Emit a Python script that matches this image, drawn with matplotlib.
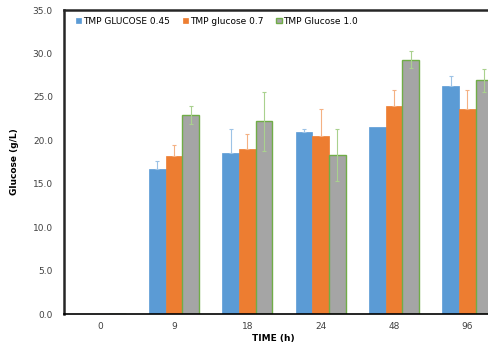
import matplotlib.pyplot as plt
import numpy as np

# Glucose by time for the three TMP conditions
times = ["0", "9", "18", "24", "48", "96"]
series_names = ["TMP GLUCOSE 0.45", "TMP glucose 0.7", "TMP Glucose 1.0"]
glucose_045 = [0, 16.7, 18.5, 20.9, 21.5, 26.3]
glucose_07 = [0, 18.2, 19.0, 20.5, 23.9, 23.6]
glucose_10 = [0, 22.9, 22.2, 18.3, 29.3, 26.9]
err_045 = [0, 0.9, 2.8, 0.35, 0.0, 1.1]
err_07 = [0, 1.3, 1.7, 3.1, 1.9, 2.2]
err_10 = [0, 1.0, 3.4, 3.0, 1.0, 1.3]

colors = ["#5B9BD5", "#ED7D31", "#A5A5A5"]
err_colors = ["#9DC3E6", "#F4B183", "#A9D18E"]

fig = plt.figure(figsize=(4.89, 3.46), dpi=100)
# axes runs past the right edge of the picture, as in the reference
ax = fig.add_axes([64 / 489, 32 / 346, 440 / 489, 304 / 346])

x = np.arange(len(times))
w = 0.227
values = [glucose_045, glucose_07, glucose_10]
errors = [err_045, err_07, err_10]
for i in range(3):
    pos = x + (i - 1) * w
    vals = np.array(values[i], dtype=float)
    errs = np.array(errors[i], dtype=float)
    if i == 2:
        ax.bar(pos, vals, w, color=colors[i], edgecolor="#70AD47",
               linewidth=1.0, label=series_names[i], zorder=2)
    else:
        ax.bar(pos, vals, w, color=colors[i], edgecolor=colors[i],
               linewidth=0.5, label=series_names[i], zorder=2)
    # skip empty points (no bar or no spread)
    keep = (vals > 0) & (errs > 0)
    if i == 2:
        yerr = errs[keep]
    else:
        yerr = [np.zeros(keep.sum()), errs[keep]]
    ax.errorbar(pos[keep], vals[keep], yerr=yerr, fmt="none", ecolor=err_colors[i],
                elinewidth=0.8, capsize=1.5, capthick=0.8, zorder=3)

ax.set_xlim(-0.5, len(times) - 0.5)
ax.set_ylim(0, 35)
ax.set_yticks(np.arange(0, 36, 5))
ax.set_yticklabels([f"{v:.1f}" for v in np.arange(0, 36, 5)], fontsize=6.5, color="#404040")
ax.set_xticks(x)
ax.set_xticklabels(times, fontsize=6.5, color="#404040")
ax.tick_params(axis="both", length=0, pad=8)
ax.tick_params(axis="x", pad=6)

for s in ["left", "top"]:
    ax.spines[s].set_linewidth(1.8)
    ax.spines[s].set_color("#262626")
ax.spines["bottom"].set_linewidth(1.2)
ax.spines["bottom"].set_color("black")
ax.spines["right"].set_visible(False)

ax.set_ylabel("Glucose (g/L)", fontsize=6.5, fontweight="bold", labelpad=10)
fig.text(273 / 489, 1 - 339 / 346, "TIME (h)", fontsize=6.5, fontweight="bold",
         ha="center", va="center")

ax.legend(loc="upper left", ncol=3, fontsize=6.5, frameon=False,
          handlelength=0.6, handleheight=0.6, handletextpad=0.2,
          columnspacing=1.4, bbox_to_anchor=(0.012, 1.0), borderaxespad=0.35)

fig.savefig("out.png", dpi=100)
